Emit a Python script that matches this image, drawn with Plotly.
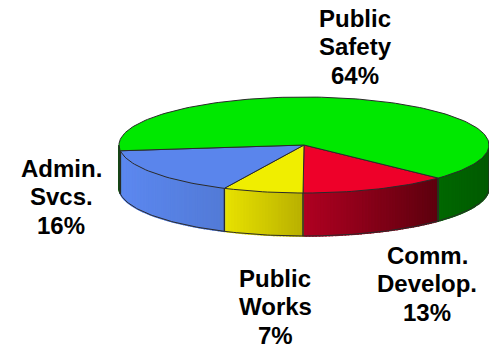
import math
import plotly.graph_objects as go

# Department shares of the budget, clockwise from the start angle
departments = [["Comm.", "Develop."], ["Public", "Works"], ["Admin.", "Svcs."], ["Public", "Safety"]]
shares = [13, 7, 16, 64]
top_colors = ["#EE0029", "#F0EE00", "#5A85EC", "#00E800"]
wall_left_colors = [(176, 0, 34), (232, 226, 0), (92, 136, 240), (0, 104, 0)]
wall_right_colors = [(92, 0, 14), (184, 176, 0), (82, 122, 214), (0, 90, 0)]
label_centers = [(427, 255), (275, 278), (61, 168), (355, 18)]

# Pie geometry in page pixels
CX, CY = 304, 145
RX, RY = 185, 48
DEPTH = 43
START_DEG = 43.5
EDGE = "#2a2a2a"
LINE_STEP = 28.7
FONT_SIZE = 24


def rim(deg):
    a = math.radians(deg)
    return CX + RX * math.cos(a), CY + RY * math.sin(a)


def arc(a0, a1, step=1.5):
    n = max(2, int(abs(a1 - a0) / step) + 1)
    return [a0 + (a1 - a0) * i / (n - 1) for i in range(n)]


fig = go.Figure()

# Cumulative slice limits
limits = []
angle = START_DEG
for s in shares:
    limits.append((angle, angle + s * 3.6))
    angle += s * 3.6

# Side wall: only the front half of the rim (sin > 0) is visible
outlines = []
for (a0, a1), c0, c1 in zip(limits, wall_left_colors, wall_right_colors):
    spans = [(a0, min(a1, 180))] if a0 < 180 else []
    if a1 > 360:
        spans.append((360, a1))
    for lo, hi in spans:
        if hi <= lo:
            continue
        xs_lo, xs_hi = rim(hi)[0], rim(lo)[0]  # page-left and page-right ends
        pts = arc(lo, hi, 1.0)
        for p, q in zip(pts[:-1], pts[1:]):
            x0, y0 = rim(p)
            x1, y1 = rim(q)
            t = ((x0 + x1) / 2 - xs_lo) / max(xs_hi - xs_lo, 1)
            col = tuple(round(u + (v - u) * t) for u, v in zip(c0, c1))
            css = f"rgb{col}"
            fig.add_trace(go.Scatter(
                x=[x0, x1, x1, x0, x0],
                y=[y0, y1, y1 + DEPTH, y0 + DEPTH, y0],
                mode="lines", fill="toself", fillcolor=css,
                line=dict(color=css, width=1.6), hoverinfo="skip",
            ))
        outlines.append(([rim(p)[0] for p in pts], [rim(p)[1] + DEPTH for p in pts]))
        for edge in (lo, hi):
            ex, ey = rim(edge)
            outlines.append(([ex, ex], [ey, ey + DEPTH]))

# Wall outline: lower rim plus vertical edges
for xs, ys in outlines:
    fig.add_trace(go.Scatter(x=xs, y=ys, mode="lines",
                             line=dict(color=EDGE, width=1), hoverinfo="skip"))

# Top faces
for (a0, a1), color in zip(limits, top_colors):
    pts = [rim(p) for p in arc(a0, a1)]
    xs = [CX] + [p[0] for p in pts] + [CX]
    ys = [CY] + [p[1] for p in pts] + [CY]
    fig.add_trace(go.Scatter(x=xs, y=ys, mode="lines", fill="toself", fillcolor=color,
                             line=dict(color=EDGE, width=1), hoverinfo="skip"))

# Labels, one annotation per line to hold the tight leading
for lines, share, (lx, ly) in zip(departments, shares, label_centers):
    for i, text in enumerate(lines + [f"{share}%"]):
        fig.add_annotation(x=lx, y=ly + i * LINE_STEP, text=f"<b>{text}</b>", showarrow=False,
                           font=dict(family="Liberation Sans", size=FONT_SIZE, color="black"),
                           xanchor="center", yanchor="middle")

fig.update_xaxes(range=[0, 489], visible=False)
fig.update_yaxes(range=[348, 0], visible=False)
fig.update_layout(width=489, height=348, margin=dict(l=0, r=0, t=0, b=0),
                  paper_bgcolor="white", plot_bgcolor="white", showlegend=False)
fig.write_html("out.html")
